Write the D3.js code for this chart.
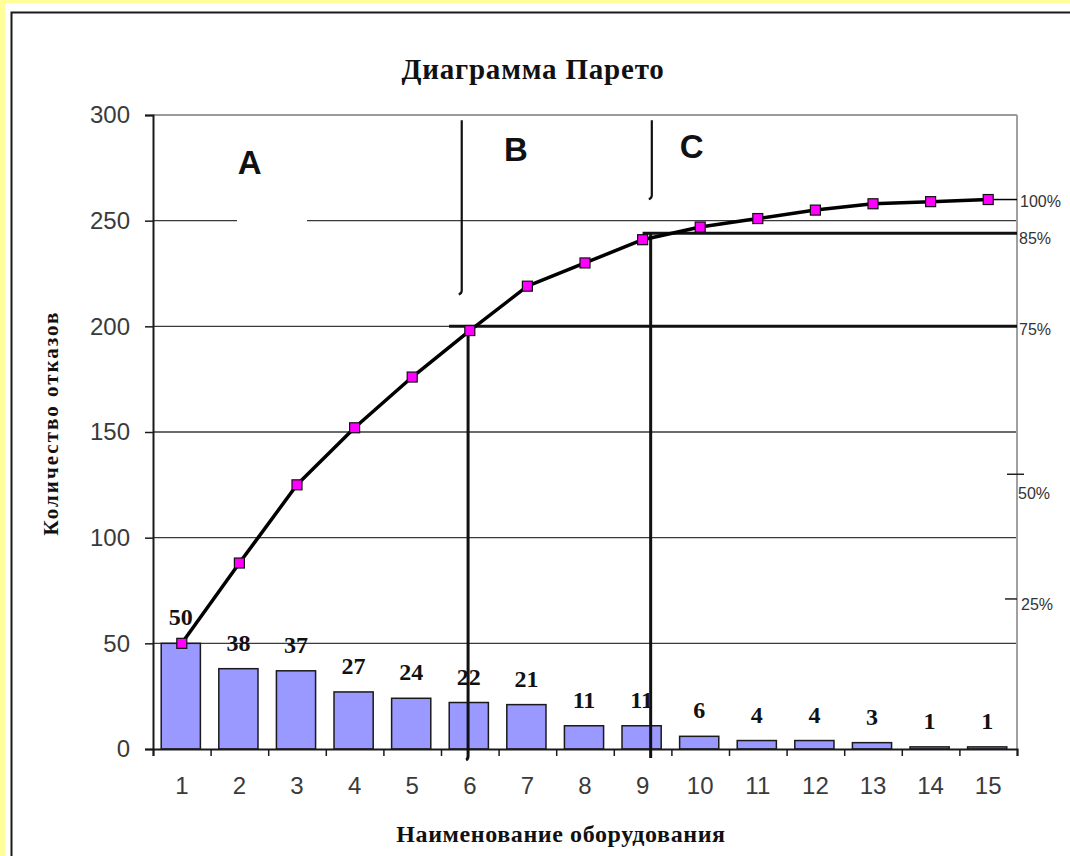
<!DOCTYPE html>
<html>
<head>
<meta charset="utf-8">
<script src="https://cdn.jsdelivr.net/npm/d3@7"></script>
<style>
  html, body { margin: 0; padding: 0; background: #ffff99; }
  svg { display: block; }
</style>
</head>
<body>
<svg id="chart" width="1070" height="856"></svg>
<script>
// Equipment numbers and their failure counts
const categories = ["1","2","3","4","5","6","7","8","9","10","11","12","13","14","15"];
const failures = [50, 38, 37, 27, 24, 22, 21, 11, 11, 6, 4, 4, 3, 1, 1];
// Running total of failures (Pareto curve)
const cumulative = [50, 88, 125, 152, 176, 198, 219, 230, 241, 247, 251, 255, 258, 259, 260];
const yTicks = [0, 50, 100, 150, 200, 250, 300];
// Percent marks on the right side, placed at count levels
const percentLabels = ["100%", "85%", "75%", "50%", "25%"];
const percentLevels = [260, 244, 200, 130, 71];
// ABC zone labels
const zoneLabels = ["A", "B", "C"];

const svg = d3.select("#chart");
const W = 1070, H = 856;
const plotLeft = 153, plotRight = 1017, plotTop = 115, plotBottom = 749;

// page background and frame
svg.append("rect").attr("x", 0).attr("y", 0).attr("width", W).attr("height", H).attr("fill", "#ffff99");
svg.append("rect").attr("x", 5).attr("y", 3).attr("width", W).attr("height", H).attr("fill", "#ffffff");
svg.append("path").attr("d", `M11.5,${H} V12.5 H${W}`).attr("fill", "none").attr("stroke", "#1a1a1a").attr("stroke-width", 2);

const x = d3.scaleBand().domain(categories).range([plotLeft, plotRight]).paddingInner(0.32).paddingOuter(0.16);
const bw = x.bandwidth();
const cx = c => x(c) + bw / 2;
// continuous position in category units (1 = first category centre)
const xi = d3.scaleLinear().domain([1, 15]).range([cx("1"), cx("15")]);
const xb = d3.scaleLinear().domain([0, 15]).range([plotLeft, plotRight]);
const y = d3.scaleLinear().domain([0, 300]).range([plotBottom, plotTop]);

// horizontal gridlines
svg.append("g").selectAll("line").data(yTicks.filter(v => v > 0)).join("line")
  .attr("x1", plotLeft).attr("x2", plotRight)
  .attr("y1", d => y(d)).attr("y2", d => y(d))
  .attr("stroke", d => d === 300 ? "#9a9a9a" : "#3a3a3a")
  .attr("stroke-width", d => d === 300 ? 2 : 1.4);

// right border of plot area
svg.append("line").attr("x1", plotRight).attr("x2", plotRight).attr("y1", plotTop).attr("y2", plotBottom)
  .attr("stroke", "#a0a0a0").attr("stroke-width", 2);

// bars
svg.append("g").selectAll("rect").data(failures).join("rect")
  .attr("x", (d, i) => x(categories[i]) - 1)
  .attr("y", d => y(d))
  .attr("width", bw)
  .attr("height", d => y(0) - y(d))
  .attr("fill", "#9999ff")
  .attr("stroke", "#1a1a1a")
  .attr("stroke-width", 1.5);

// y axis
const yAxis = svg.append("g").attr("transform", `translate(${plotLeft},0)`)
  .call(d3.axisLeft(y).tickValues(yTicks).tickSize(8).tickPadding(15));
yAxis.select(".domain").attr("stroke", "#1a1a1a").attr("stroke-width", 2);
yAxis.selectAll(".tick line").attr("stroke", "#1a1a1a").attr("stroke-width", 1.5);
yAxis.selectAll(".tick text")
  .attr("font-family", "'Liberation Sans', Arial, sans-serif")
  .attr("font-size", 24).attr("fill", "#3a3a3a");

// x axis ticks at category boundaries
const xTicks = svg.append("g").attr("transform", `translate(0,${plotBottom})`)
  .call(d3.axisBottom(xb).tickValues(d3.range(0, 16)).tickSize(7).tickFormat(""));
xTicks.select(".domain").attr("stroke", "#1a1a1a").attr("stroke-width", 2);
xTicks.selectAll(".tick line").attr("stroke", "#1a1a1a").attr("stroke-width", 1.5);

// x axis category labels
const xLab = svg.append("g").attr("transform", `translate(0,${plotBottom})`)
  .call(d3.axisBottom(x).tickSize(0).tickPadding(28));
xLab.select(".domain").remove();
xLab.selectAll(".tick text")
  .attr("font-family", "'Liberation Sans', Arial, sans-serif")
  .attr("font-size", 24).attr("fill", "#3a3a3a");

// white backing behind zone label A (breaks the 250 gridline)
svg.append("rect").attr("x", 237).attr("y", y(250) - 6).attr("width", 70).attr("height", 12).attr("fill", "#fff");

// value labels above bars
svg.append("g").selectAll("text").data(failures).join("text")
  .attr("x", (d, i) => cx(categories[i]) - 1)
  .attr("y", d => y(d) - 18)
  .attr("text-anchor", "middle")
  .attr("font-family", "'Liberation Serif', 'Times New Roman', serif")
  .attr("font-weight", "bold")
  .attr("font-size", 24)
  .attr("fill", "#111")
  .text(d => d);

// 75% and 85% cut-off lines
const cut = svg.append("g").attr("stroke", "#111").attr("stroke-width", 3).attr("fill", "none");
cut.append("line").attr("x1", xi(5.64)).attr("x2", plotRight).attr("y1", y(percentLevels[2])).attr("y2", y(percentLevels[2]));
cut.append("line").attr("x1", xi(9.0)).attr("x2", plotRight).attr("y1", y(percentLevels[1])).attr("y2", y(percentLevels[1]));
// vertical drop lines from the cut-offs to the axis, with a small hook at the foot
cut.append("path").attr("d", `M${xi(5.97)},${y(percentLevels[2])} V${plotBottom + 7} q0,3 -2,4`);
cut.append("path").attr("d", `M${xi(9.14)},${y(percentLevels[1])} V${plotBottom + 9}`);
// zone separators at the top
const sep = svg.append("g").attr("stroke", "#111").attr("stroke-width", 2.2).attr("fill", "none");
sep.append("path").attr("d", `M${xi(5.86)},${y(297.5)} V${y(217)} q0,3 -3,4`);
sep.append("path").attr("d", `M${xi(9.16)},${y(297.5)} V${y(262)} q0,3 -3,4`);

// cumulative curve
const line = d3.line().x((d, i) => cx(categories[i])).y(d => y(d));
svg.append("path").datum(cumulative)
  .attr("d", line)
  .attr("fill", "none").attr("stroke", "#000").attr("stroke-width", 3.5).attr("stroke-linejoin", "round");
// tail of the curve runs to the 100% mark
svg.append("line").attr("x1", cx("15")).attr("x2", plotRight).attr("y1", y(260)).attr("y2", y(260))
  .attr("stroke", "#000").attr("stroke-width", 1.5);
svg.append("g").selectAll("rect").data(cumulative).join("rect")
  .attr("x", (d, i) => cx(categories[i]) - 5)
  .attr("y", d => y(d) - 5)
  .attr("width", 10).attr("height", 10)
  .attr("fill", "#ff00ff").attr("stroke", "#111").attr("stroke-width", 1.2);

// right-side percent marks
const pctOffsets = [
  { dx: 3, dy: 7 }, { dx: 2, dy: 11 }, { dx: 2, dy: 9 }, { dx: 1, dy: 25 }, { dx: 4, dy: 11 }
];
svg.append("g").selectAll("text").data(percentLabels).join("text")
  .attr("x", (d, i) => plotRight + pctOffsets[i].dx)
  .attr("y", (d, i) => y(percentLevels[i]) + pctOffsets[i].dy)
  .attr("font-family", "'Liberation Sans', Arial, sans-serif")
  .attr("font-size", 16).attr("fill", "#333")
  .text(d => d);
svg.append("line").attr("x1", plotRight - 10).attr("x2", plotRight + 7).attr("y1", y(130)).attr("y2", y(130)).attr("stroke", "#222").attr("stroke-width", 1.5);
svg.append("line").attr("x1", plotRight - 12).attr("x2", plotRight).attr("y1", y(71)).attr("y2", y(71)).attr("stroke", "#222").attr("stroke-width", 1.5);

// zone letters
const zonePos = [{ at: 2.18, v: 272 }, { at: 6.8, v: 278 }, { at: 9.85, v: 279.5 }];
svg.append("g").selectAll("text").data(zoneLabels).join("text")
  .attr("x", (d, i) => xi(zonePos[i].at))
  .attr("y", (d, i) => y(zonePos[i].v))
  .attr("text-anchor", "middle")
  .attr("font-family", "'Liberation Sans', Arial, sans-serif")
  .attr("font-weight", "bold").attr("font-size", 33).attr("fill", "#111")
  .text(d => d);

// titles
svg.append("text").attr("x", 533).attr("y", 79).attr("text-anchor", "middle")
  .attr("font-family", "'Liberation Serif', 'Times New Roman', serif")
  .attr("font-weight", "bold").attr("font-size", 29).attr("letter-spacing", 0.8).attr("fill", "#111")
  .text("Диаграмма Парето");
svg.append("text").attr("transform", "translate(58,423) rotate(-90)").attr("text-anchor", "middle")
  .attr("font-family", "'Liberation Serif', 'Times New Roman', serif")
  .attr("font-weight", "bold").attr("font-size", 21).attr("letter-spacing", 2).attr("fill", "#111")
  .text("Количество отказов");
svg.append("text").attr("x", 561).attr("y", 842).attr("text-anchor", "middle")
  .attr("font-family", "'Liberation Serif', 'Times New Roman', serif")
  .attr("font-weight", "bold").attr("font-size", 24).attr("letter-spacing", 0.6).attr("fill", "#111")
  .text("Наименование оборудования");
</script>
</body>
</html>
